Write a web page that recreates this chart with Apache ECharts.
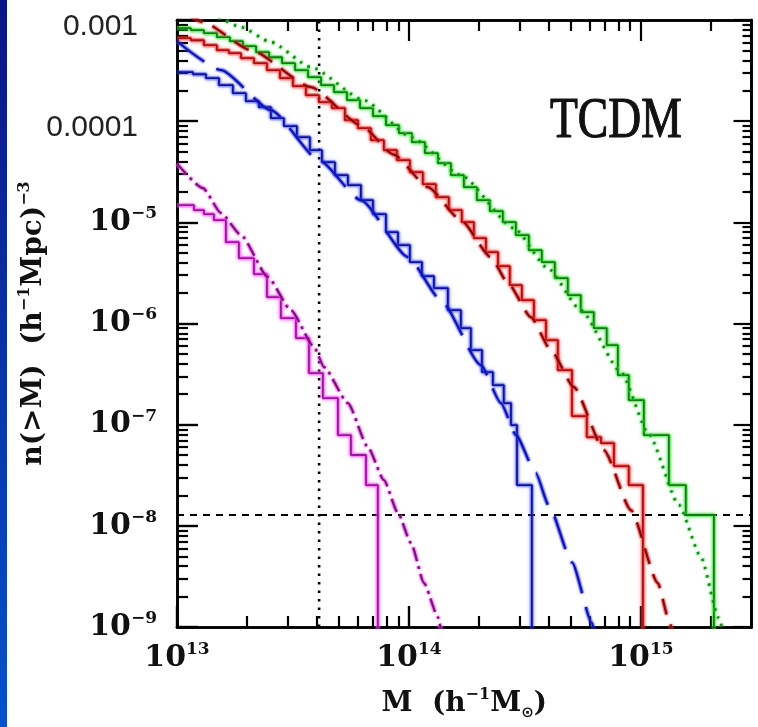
<!DOCTYPE html>
<html>
<head>
<meta charset="utf-8">
<script src="https://cdn.jsdelivr.net/npm/echarts@6/dist/echarts.min.js"></script>
<style>
  html, body { margin: 0; padding: 0; background: #ffffff; }
  #chart { width: 758px; height: 727px; }
</style>
</head>
<body>
<div id="chart"></div>
<script>
// Cumulative cluster mass functions n(>M) for the TCDM run.
// Values are stored as log10(M / h^-1 Msun) and log10(n / (h^-1 Mpc)^-3).

const massRange = [1e13, 3e15];
const densityRange = [1e-9, 1e-3];

// Tick marks and labels
const xMajorTicks = [1e13, 1e14, 1e15];
const xTickLabels = ['{p|10}{q|13}', '{p|10}{q|14}', '{p|10}{q|15}'];
const xMinorTicks = [2e13, 3e13, 4e13, 5e13, 6e13, 7e13, 8e13, 9e13,
                     2e14, 3e14, 4e14, 5e14, 6e14, 7e14, 8e14, 9e14,
                     2e15, 3e15];
const yMajorTicks = [1e-9, 1e-8, 1e-7, 1e-6, 1e-5, 1e-4, 1e-3];
const yTickLabels = ['{p|10}{q|−9}', '{p|10}{q|−8}', '{p|10}{q|−7}', '{p|10}{q|−6}',
                     '{p|10}{q|−5}', '{d|0.0001}', '{d|0.001}'];
const yMinorTicks = [2e-9, 3e-9, 4e-9, 5e-9, 6e-9, 7e-9, 8e-9, 9e-9,
                     2e-8, 3e-8, 4e-8, 5e-8, 6e-8, 7e-8, 8e-8, 9e-8,
                     2e-7, 3e-7, 4e-7, 5e-7, 6e-7, 7e-7, 8e-7, 9e-7,
                     2e-6, 3e-6, 4e-6, 5e-6, 6e-6, 7e-6, 8e-6, 9e-6,
                     2e-5, 3e-5, 4e-5, 5e-5, 6e-5, 7e-5, 8e-5, 9e-5,
                     2e-4, 3e-4, 4e-4, 5e-4, 6e-4, 7e-4, 8e-4, 9e-4];

// Reference levels: resolution mass and one cluster per simulation volume
const resolutionMass = 4.1e13;
const oneClusterDensity = 1.28e-8;

// Histogram of the simulated clusters (value holds from each bin edge to the next)
const greenStepLogM = [13.00, 13.060, 13.116, 13.172, 13.228, 13.284, 13.341, 13.397, 13.453, 13.509,
                       13.565, 13.621, 13.677, 13.733, 13.789, 13.845, 13.901, 13.957, 14.013, 14.069,
                       14.125, 14.181, 14.237, 14.293, 14.349, 14.405, 14.461, 14.517, 14.573, 14.629,
                       14.685, 14.741, 14.797, 14.853, 14.901, 14.948, 15.013, 15.121, 15.194];
const greenStepLogN = [-3.081, -3.101, -3.130, -3.170, -3.209, -3.259, -3.318, -3.368, -3.427, -3.496,
                       -3.565, -3.644, -3.713, -3.792, -3.871, -3.951, -4.040, -4.119, -4.208, -4.316,
                       -4.415, -4.534, -4.652, -4.781, -4.889, -4.998, -5.126, -5.275, -5.393, -5.551,
                       -5.719, -5.887, -6.045, -6.213, -6.510, -6.757, -7.103, -7.597, -7.893];
const greenStepEnd = 15.315;

const redStepLogM = [13.00, 13.060, 13.116, 13.172, 13.224, 13.276, 13.332, 13.388, 13.444, 13.500,
                     13.556, 13.612, 13.668, 13.724, 13.780, 13.836, 13.892, 13.948, 14.004, 14.060,
                     14.116, 14.172, 14.228, 14.280, 14.332, 14.384, 14.435, 14.487, 14.539, 14.591,
                     14.642, 14.703, 14.767, 14.828, 14.884, 14.948];
const redStepLogN = [-3.180, -3.200, -3.249, -3.298, -3.328, -3.377, -3.427, -3.496, -3.575, -3.654,
                     -3.743, -3.812, -3.871, -3.990, -4.069, -4.188, -4.287, -4.385, -4.504, -4.623,
                     -4.751, -4.879, -4.998, -5.156, -5.294, -5.433, -5.621, -5.769, -5.966, -6.164,
                     -6.460, -6.915, -7.123, -7.182, -7.409, -7.597];
const redStepEnd = 15.009;

const blueStepLogM = [13.00, 13.069, 13.125, 13.181, 13.241, 13.297, 13.353, 13.405, 13.461, 13.517,
                      13.573, 13.625, 13.681, 13.737, 13.793, 13.845, 13.901, 13.953, 14.004, 14.056,
                      14.108, 14.168, 14.224, 14.267, 14.315, 14.362, 14.409, 14.440, 14.466];
const blueStepLogN = [-3.516, -3.536, -3.575, -3.644, -3.723, -3.802, -3.862, -3.970, -4.049, -4.158,
                      -4.287, -4.405, -4.534, -4.632, -4.781, -4.919, -5.097, -5.225, -5.393, -5.532,
                      -5.650, -5.868, -6.045, -6.263, -6.480, -6.609, -6.787, -7.004, -7.597];
const blueStepEnd = 14.530;

const magentaStepLogM = [13.00, 13.073, 13.116, 13.159, 13.211, 13.267, 13.332, 13.388, 13.448, 13.513,
                         13.569, 13.629, 13.694, 13.750, 13.815];
const magentaStepLogN = [-4.830, -4.879, -4.919, -4.978, -5.196, -5.354, -5.512, -5.739, -5.947, -6.144,
                         -6.490, -6.737, -7.103, -7.300, -7.597];
const magentaStepEnd = 13.866;

// Analytic predictions
const greenModelLogM = [13.18, 13.276, 13.405, 13.578, 13.806, 14.009, 14.224, 14.453, 14.599, 14.741,
                        14.914, 15.034, 15.164, 15.259, 15.336, 15.36];
const greenModelLogN = [-2.97, -3.071, -3.219, -3.466, -3.793, -4.158, -4.534, -5.057, -5.453, -5.868,
                        -6.480, -7.093, -7.794, -8.308, -8.911, -9.1];

const redModelLogM = [13.05, 13.112, 13.319, 13.578, 13.793, 13.935, 14.082, 14.224, 14.353, 14.427,
                      14.526, 14.612, 14.711, 14.841, 14.957, 15.073, 15.121, 15.14];
const redModelLogN = [-2.94, -3.022, -3.298, -3.664, -4.040, -4.330, -4.652, -4.978, -5.344, -5.601,
                      -5.937, -6.263, -6.628, -7.251, -7.844, -8.565, -8.931, -9.1];

const blueModelLogM = [13.00, 13.190, 13.405, 13.612, 13.793, 13.996, 14.138, 14.310, 14.397, 14.461,
                       14.547, 14.603, 14.703, 14.789, 14.80];
const blueModelLogN = [-3.21, -3.496, -3.891, -4.385, -4.781, -5.344, -5.769, -6.410, -6.787, -7.100,
                       -7.478, -7.800, -8.360, -8.960, -9.05];

const magentaModelLogM = [13.00, 13.112, 13.190, 13.276, 13.392, 13.491, 13.591, 13.634, 13.737, 13.823,
                          13.892, 13.953, 14.009, 14.065, 14.125, 14.14];
const magentaModelLogN = [-4.42, -4.662, -4.909, -5.126, -5.542, -5.868, -6.233, -6.431, -6.787, -7.221,
                          -7.547, -7.874, -8.170, -8.565, -8.901, -9.05];

// An empty bin lies below the plotted range
const emptyBin = 1e-10;

const toPoints = (logM, logN) => logM.map((m, i) => [Math.pow(10, m), Math.pow(10, logN[i])]);
const stepPoints = (logM, logN, endM) =>
  toPoints(logM, logN).concat([[Math.pow(10, endM), emptyBin]]);

const SERIF = '"DejaVu Serif", "Liberation Serif", serif';

// Each curve: a soft coloured band underneath and a darker core line on top
function stepSeries(name, data, core, glow) {
  return [
    {
      name: name + ' band', type: 'line', data, step: 'end', symbol: 'none', silent: true, clip: true,
      lineStyle: { color: glow, width: 4.5, opacity: 0.55 }, z: 3
    },
    {
      name, type: 'line', data, step: 'end', symbol: 'none', silent: true, clip: true,
      lineStyle: { color: core, width: 1.8, shadowColor: glow, shadowBlur: 4 }, z: 4
    }
  ];
}
function modelSeries(name, data, core, glow, dash, width) {
  return [
    {
      name: name + ' band', type: 'line', data, symbol: 'none', silent: true, clip: true,
      smooth: 0.2, smoothMonotone: 'x',
      lineStyle: { color: glow, width: width + 2.5, type: dash, opacity: 0.5 }, z: 5
    },
    {
      name, type: 'line', data, symbol: 'none', silent: true, clip: true,
      smooth: 0.2, smoothMonotone: 'x',
      lineStyle: { color: core, width: width, type: dash, shadowColor: glow, shadowBlur: 3 }, z: 6
    }
  ];
}

function axisBase(range) {
  return {
    type: 'log', logBase: 10, min: range[0], max: range[1], gridIndex: 0,
    axisLine: { show: true, onZero: false, lineStyle: { color: '#000', width: 2.6 } },
    splitLine: { show: false }, minorTick: { show: false }, minorSplitLine: { show: false }
  };
}
function tickOnlyAxis(range, position, ticks, len) {
  return Object.assign(axisBase(range), {
    position,
    axisTick: { show: true, inside: true, length: len, customValues: ticks,
                lineStyle: { color: '#000', width: 2.2 } },
    axisLabel: { show: false }
  });
}

const labelRich = {
  p: { fontFamily: SERIF, fontWeight: 'bold', fontSize: 30, lineHeight: 34, color: '#111', verticalAlign: 'middle' },
  q: { fontFamily: SERIF, fontWeight: 'bold', fontSize: 17, lineHeight: 20, color: '#111', verticalAlign: 'top' },
  d: { fontFamily: '"Liberation Sans", Arial, sans-serif', fontSize: 30, lineHeight: 44, color: '#222',
       verticalAlign: 'bottom', padding: [0, 19, 0, 0] }
};
const nameRich = {
  t: { fontFamily: SERIF, fontWeight: 'bold', fontSize: 28, lineHeight: 34, color: '#111', verticalAlign: 'middle' },
  s: { fontFamily: SERIF, fontWeight: 'bold', fontSize: 16, lineHeight: 18, color: '#111', verticalAlign: 'top' },
  u: { fontFamily: '"DejaVu Sans", sans-serif', fontWeight: 'bold', fontSize: 15, lineHeight: 16, color: '#111', verticalAlign: 'bottom' }
};

const findIndex = (ticks, v) =>
  ticks.findIndex(t => Math.abs(Math.log10(t) - Math.log10(v)) < 1e-6);

const chart = echarts.init(document.getElementById('chart'), null, { renderer: 'canvas' });

chart.setOption({
  animation: false,
  backgroundColor: '#ffffff',
  grid: { left: 177, right: 6.5, top: 20, bottom: 100, containLabel: false, outerBoundsMode: 'none' },
  xAxis: [
    Object.assign(axisBase(massRange), {
      position: 'bottom',
      axisTick: { show: true, inside: true, length: 21, customValues: xMajorTicks,
                  lineStyle: { color: '#000', width: 2.4 } },
      axisLabel: { show: true, customValues: xMajorTicks, margin: 14, rich: labelRich,
                   formatter: v => xTickLabels[findIndex(xMajorTicks, v)] },
      name: '{t|M  (h}{s|−1}{t|M}{u|⊙}{t|)}',
      nameLocation: 'middle', nameGap: 60, nameMoveOverlap: false,
      nameTextStyle: { rich: nameRich }
    }),
    tickOnlyAxis(massRange, 'bottom', xMinorTicks, 11),
    tickOnlyAxis(massRange, 'top', xMajorTicks, 21),
    tickOnlyAxis(massRange, 'top', xMinorTicks, 11)
  ],
  yAxis: [
    Object.assign(axisBase(densityRange), {
      position: 'left',
      axisTick: { show: true, inside: true, length: 21, customValues: yMajorTicks,
                  lineStyle: { color: '#000', width: 2.4 } },
      axisLabel: { show: true, customValues: yMajorTicks, margin: 20, rich: labelRich,
                   formatter: v => yTickLabels[findIndex(yMajorTicks, v)] },
      name: '{t|n(>M)  (h}{s|−1}{t|Mpc)}{s|−3}',
      nameLocation: 'middle', nameRotate: 90, nameGap: 126, nameMoveOverlap: false,
      nameTextStyle: { rich: nameRich }
    }),
    tickOnlyAxis(densityRange, 'left', yMinorTicks, 11),
    tickOnlyAxis(densityRange, 'right', yMajorTicks, 18),
    tickOnlyAxis(densityRange, 'right', yMinorTicks, 9)
  ],
  graphic: [
    {
      type: 'rect', z: -10, silent: true,
      shape: { x: 0, y: 0, width: 7, height: 727 },
      style: { fill: new echarts.graphic.LinearGradient(0, 0, 0, 1, [
        { offset: 0, color: '#0b1486' }, { offset: 1, color: '#0652cc' }]) }
    },
    {
      type: 'text', x: 550, y: 122, scaleX: 0.8, silent: true, z: 10,
      style: { text: 'TCDM', font: '57px "Liberation Serif", serif', fill: '#111',
               stroke: '#111', lineWidth: 1.2, verticalAlign: 'middle', align: 'left' }
    }
  ],
  series: [
    {
      name: 'resolution', type: 'line', symbol: 'none', silent: true, z: 2,
      data: [[resolutionMass, densityRange[0]], [resolutionMass, densityRange[1]]],
      lineStyle: { color: '#000', width: 2.6, type: [2.5, 6] }
    },
    {
      name: 'one cluster', type: 'line', symbol: 'none', silent: true, z: 2,
      data: [[massRange[0], oneClusterDensity], [massRange[1], oneClusterDensity]],
      lineStyle: { color: '#000', width: 2.2, type: [7, 6] }
    }
  ].concat(
    stepSeries('green histogram', stepPoints(greenStepLogM, greenStepLogN, greenStepEnd),
               '#157a15', 'rgba(40,230,40,0.9)'),
    stepSeries('red histogram', stepPoints(redStepLogM, redStepLogN, redStepEnd),
               '#a51212', 'rgba(255,40,40,0.85)'),
    stepSeries('blue histogram', stepPoints(blueStepLogM, blueStepLogN, blueStepEnd),
               '#12128f', 'rgba(40,60,255,0.75)'),
    stepSeries('magenta histogram', stepPoints(magentaStepLogM, magentaStepLogN, magentaStepEnd),
               '#951a95', 'rgba(255,60,255,0.9)'),
    modelSeries('green model', toPoints(greenModelLogM, greenModelLogN),
                '#1f7f1f', 'rgba(40,230,40,0.9)', [2.5, 6], 2.4),
    modelSeries('red model', toPoints(redModelLogM, redModelLogN),
                '#7a0e0e', 'rgba(255,40,40,0.85)', [16, 11], 2.2),
    modelSeries('blue model', toPoints(blueModelLogM, blueModelLogN),
                '#1212a8', 'rgba(40,60,255,0.75)', [34, 14], 2.2),
    modelSeries('magenta model', toPoints(magentaModelLogM, magentaModelLogN),
                '#701870', 'rgba(255,60,255,0.9)', [14, 5, 3, 5], 2.2)
  )
});
</script>
</body>
</html>
